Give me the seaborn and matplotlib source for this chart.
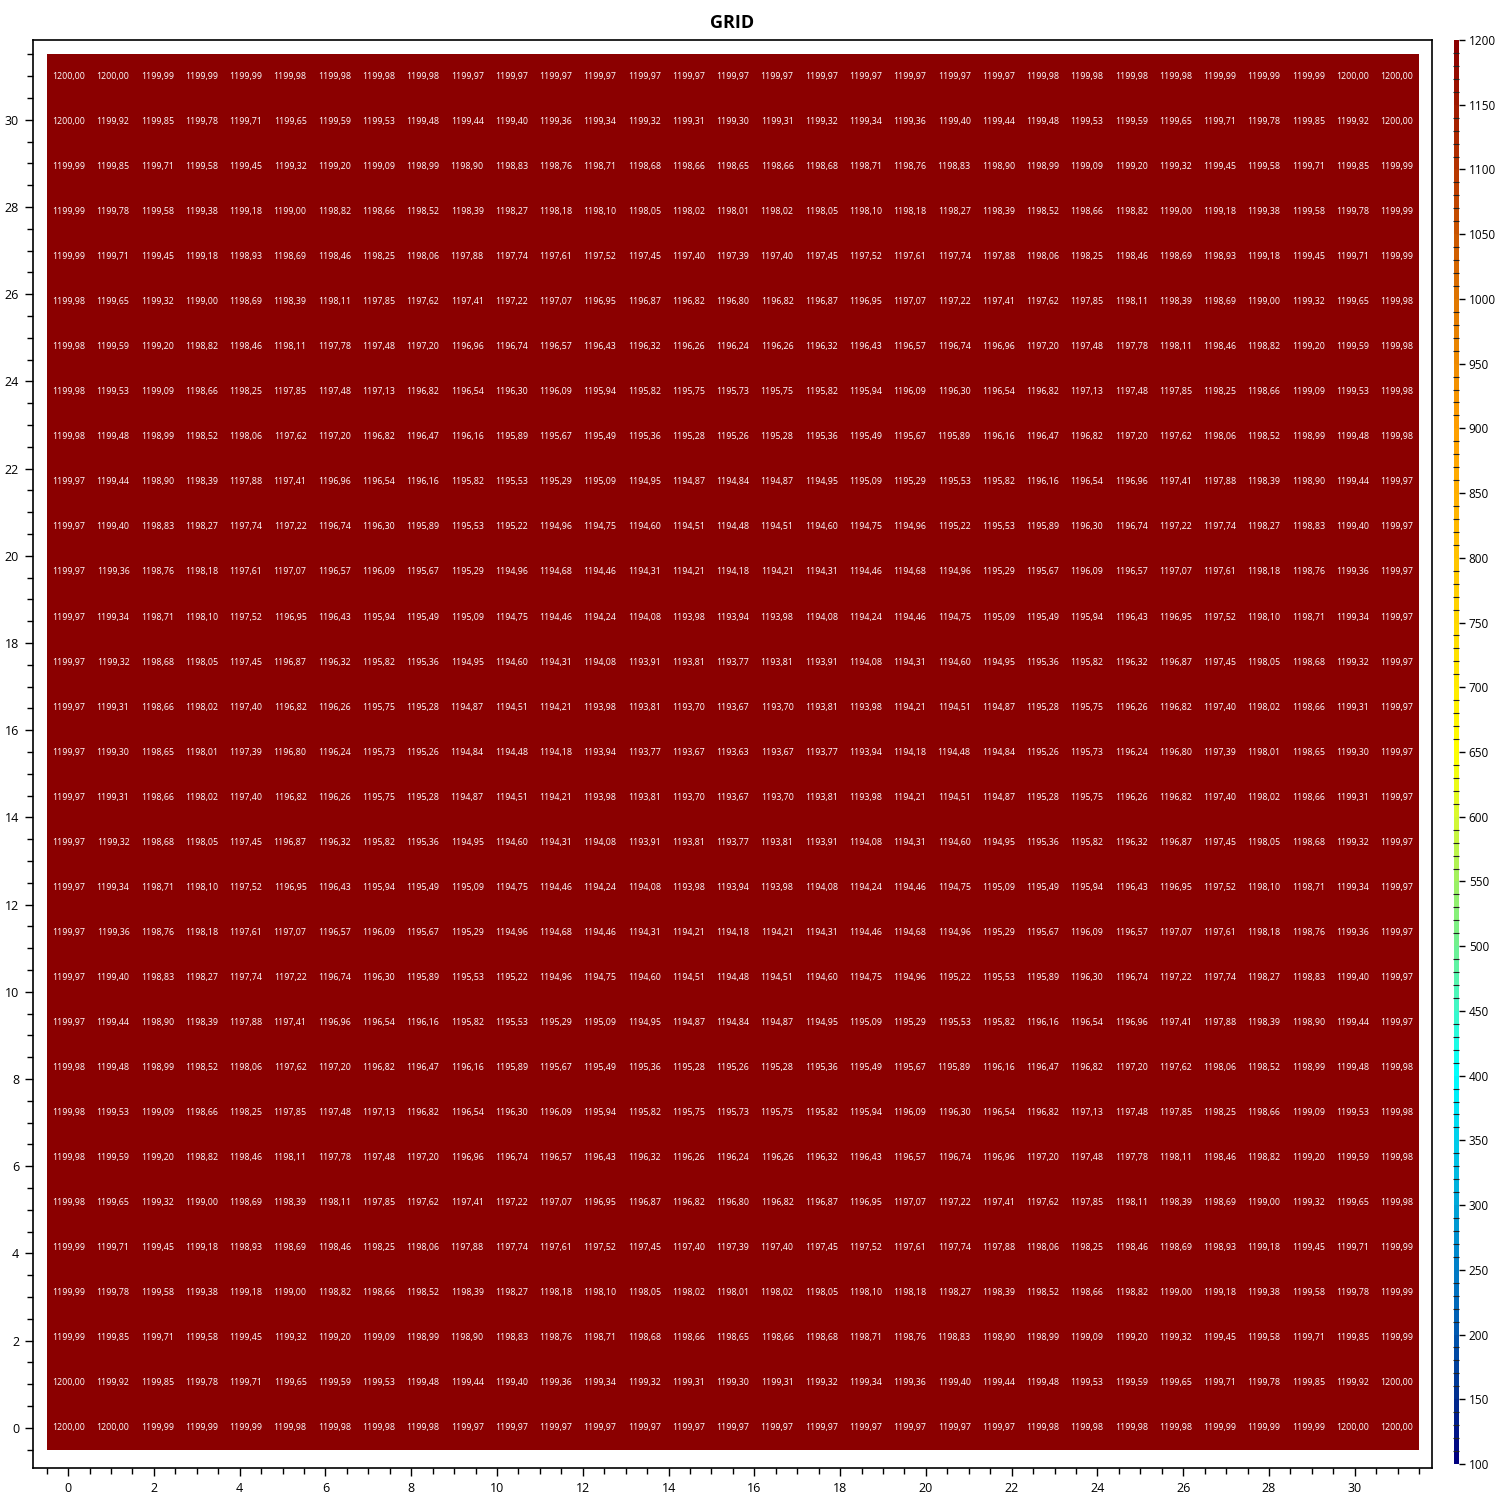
import numpy as np
import pandas as pd
import seaborn as sns
import matplotlib
import matplotlib.pyplot as plt
from matplotlib.colors import LinearSegmentedColormap
from matplotlib.ticker import MultipleLocator

matplotlib.rcParams['font.family'] = ['Open Sans', 'DejaVu Sans']

# grid values, one row per distinct line (the field is symmetric top/bottom)
row_00 = [1200.00, 1200.00, 1199.99, 1199.99, 1199.99, 1199.98, 1199.98, 1199.98, 1199.98, 1199.97, 1199.97, 1199.97, 1199.97, 1199.97, 1199.97, 1199.97,
          1199.97, 1199.97, 1199.97, 1199.97, 1199.97, 1199.97, 1199.98, 1199.98, 1199.98, 1199.98, 1199.99, 1199.99, 1199.99, 1200.00, 1200.00]
row_01 = [1200.00, 1199.92, 1199.85, 1199.78, 1199.71, 1199.65, 1199.59, 1199.53, 1199.48, 1199.44, 1199.40, 1199.36, 1199.34, 1199.32, 1199.31, 1199.30,
          1199.31, 1199.32, 1199.34, 1199.36, 1199.40, 1199.44, 1199.48, 1199.53, 1199.59, 1199.65, 1199.71, 1199.78, 1199.85, 1199.92, 1200.00]
row_02 = [1199.99, 1199.85, 1199.71, 1199.58, 1199.45, 1199.32, 1199.20, 1199.09, 1198.99, 1198.90, 1198.83, 1198.76, 1198.71, 1198.68, 1198.66, 1198.65,
          1198.66, 1198.68, 1198.71, 1198.76, 1198.83, 1198.90, 1198.99, 1199.09, 1199.20, 1199.32, 1199.45, 1199.58, 1199.71, 1199.85, 1199.99]
row_03 = [1199.99, 1199.78, 1199.58, 1199.38, 1199.18, 1199.00, 1198.82, 1198.66, 1198.52, 1198.39, 1198.27, 1198.18, 1198.10, 1198.05, 1198.02, 1198.01,
          1198.02, 1198.05, 1198.10, 1198.18, 1198.27, 1198.39, 1198.52, 1198.66, 1198.82, 1199.00, 1199.18, 1199.38, 1199.58, 1199.78, 1199.99]
row_04 = [1199.99, 1199.71, 1199.45, 1199.18, 1198.93, 1198.69, 1198.46, 1198.25, 1198.06, 1197.88, 1197.74, 1197.61, 1197.52, 1197.45, 1197.40, 1197.39,
          1197.40, 1197.45, 1197.52, 1197.61, 1197.74, 1197.88, 1198.06, 1198.25, 1198.46, 1198.69, 1198.93, 1199.18, 1199.45, 1199.71, 1199.99]
row_05 = [1199.98, 1199.65, 1199.32, 1199.00, 1198.69, 1198.39, 1198.11, 1197.85, 1197.62, 1197.41, 1197.22, 1197.07, 1196.95, 1196.87, 1196.82, 1196.80,
          1196.82, 1196.87, 1196.95, 1197.07, 1197.22, 1197.41, 1197.62, 1197.85, 1198.11, 1198.39, 1198.69, 1199.00, 1199.32, 1199.65, 1199.98]
row_06 = [1199.98, 1199.59, 1199.20, 1198.82, 1198.46, 1198.11, 1197.78, 1197.48, 1197.20, 1196.96, 1196.74, 1196.57, 1196.43, 1196.32, 1196.26, 1196.24,
          1196.26, 1196.32, 1196.43, 1196.57, 1196.74, 1196.96, 1197.20, 1197.48, 1197.78, 1198.11, 1198.46, 1198.82, 1199.20, 1199.59, 1199.98]
row_07 = [1199.98, 1199.53, 1199.09, 1198.66, 1198.25, 1197.85, 1197.48, 1197.13, 1196.82, 1196.54, 1196.30, 1196.09, 1195.94, 1195.82, 1195.75, 1195.73,
          1195.75, 1195.82, 1195.94, 1196.09, 1196.30, 1196.54, 1196.82, 1197.13, 1197.48, 1197.85, 1198.25, 1198.66, 1199.09, 1199.53, 1199.98]
row_08 = [1199.98, 1199.48, 1198.99, 1198.52, 1198.06, 1197.62, 1197.20, 1196.82, 1196.47, 1196.16, 1195.89, 1195.67, 1195.49, 1195.36, 1195.28, 1195.26,
          1195.28, 1195.36, 1195.49, 1195.67, 1195.89, 1196.16, 1196.47, 1196.82, 1197.20, 1197.62, 1198.06, 1198.52, 1198.99, 1199.48, 1199.98]
row_09 = [1199.97, 1199.44, 1198.90, 1198.39, 1197.88, 1197.41, 1196.96, 1196.54, 1196.16, 1195.82, 1195.53, 1195.29, 1195.09, 1194.95, 1194.87, 1194.84,
          1194.87, 1194.95, 1195.09, 1195.29, 1195.53, 1195.82, 1196.16, 1196.54, 1196.96, 1197.41, 1197.88, 1198.39, 1198.90, 1199.44, 1199.97]
row_10 = [1199.97, 1199.40, 1198.83, 1198.27, 1197.74, 1197.22, 1196.74, 1196.30, 1195.89, 1195.53, 1195.22, 1194.96, 1194.75, 1194.60, 1194.51, 1194.48,
          1194.51, 1194.60, 1194.75, 1194.96, 1195.22, 1195.53, 1195.89, 1196.30, 1196.74, 1197.22, 1197.74, 1198.27, 1198.83, 1199.40, 1199.97]
row_11 = [1199.97, 1199.36, 1198.76, 1198.18, 1197.61, 1197.07, 1196.57, 1196.09, 1195.67, 1195.29, 1194.96, 1194.68, 1194.46, 1194.31, 1194.21, 1194.18,
          1194.21, 1194.31, 1194.46, 1194.68, 1194.96, 1195.29, 1195.67, 1196.09, 1196.57, 1197.07, 1197.61, 1198.18, 1198.76, 1199.36, 1199.97]
row_12 = [1199.97, 1199.34, 1198.71, 1198.10, 1197.52, 1196.95, 1196.43, 1195.94, 1195.49, 1195.09, 1194.75, 1194.46, 1194.24, 1194.08, 1193.98, 1193.94,
          1193.98, 1194.08, 1194.24, 1194.46, 1194.75, 1195.09, 1195.49, 1195.94, 1196.43, 1196.95, 1197.52, 1198.10, 1198.71, 1199.34, 1199.97]
row_13 = [1199.97, 1199.32, 1198.68, 1198.05, 1197.45, 1196.87, 1196.32, 1195.82, 1195.36, 1194.95, 1194.60, 1194.31, 1194.08, 1193.91, 1193.81, 1193.77,
          1193.81, 1193.91, 1194.08, 1194.31, 1194.60, 1194.95, 1195.36, 1195.82, 1196.32, 1196.87, 1197.45, 1198.05, 1198.68, 1199.32, 1199.97]
row_14 = [1199.97, 1199.31, 1198.66, 1198.02, 1197.40, 1196.82, 1196.26, 1195.75, 1195.28, 1194.87, 1194.51, 1194.21, 1193.98, 1193.81, 1193.70, 1193.67,
          1193.70, 1193.81, 1193.98, 1194.21, 1194.51, 1194.87, 1195.28, 1195.75, 1196.26, 1196.82, 1197.40, 1198.02, 1198.66, 1199.31, 1199.97]
row_15 = [1199.97, 1199.30, 1198.65, 1198.01, 1197.39, 1196.80, 1196.24, 1195.73, 1195.26, 1194.84, 1194.48, 1194.18, 1193.94, 1193.77, 1193.67, 1193.63,
          1193.67, 1193.77, 1193.94, 1194.18, 1194.48, 1194.84, 1195.26, 1195.73, 1196.24, 1196.80, 1197.39, 1198.01, 1198.65, 1199.30, 1199.97]

# rows as drawn from top to bottom
grid_rows = [row_00, row_01, row_02, row_03, row_04, row_05, row_06, row_07,
             row_08, row_09, row_10, row_11, row_12, row_13, row_14, row_15,
             row_14, row_13, row_12, row_11, row_10, row_09, row_08, row_07,
             row_06, row_05, row_04, row_03, row_02, row_01, row_00]

x_ticks = list(range(0, 31, 2))
y_ticks = list(range(0, 31, 2))
cbar_ticks = list(range(100, 1201, 50))
vmin, vmax = 100, 1200

data = pd.DataFrame(grid_rows)
labels = data.map(lambda v: f"{v:.2f}".replace('.', ','))

# navy -> blue -> cyan -> green -> yellow -> orange -> dark red, stepped every 10
cmap = LinearSegmentedColormap.from_list('grid', [
    (0.000, '#000080'), (0.045, '#003090'), (0.091, '#0058b0'),
    (0.136, '#0080c8'), (0.182, '#00a8d8'), (0.227, '#00d0ec'),
    (0.273, '#00ffff'), (0.318, '#40f8c8'), (0.364, '#70f090'),
    (0.409, '#a0f060'), (0.455, '#d8f830'), (0.500, '#ffff00'),
    (0.591, '#ffd800'), (0.682, '#ffb000'), (0.727, '#ffa000'),
    (0.818, '#e07800'), (0.909, '#b83800'), (1.000, '#8b0000')], N=110)

fig = plt.figure(figsize=(15, 15), dpi=100)
ax = fig.add_axes([33 / 1500, 1 - 1468 / 1500, (1432 - 33) / 1500, (1468 - 40) / 1500])
cax = fig.add_axes([1454 / 1500, 1 - 1464 / 1500, 5 / 1500, (1464 - 40) / 1500])

sns.heatmap(data, ax=ax, cbar_ax=cax, cmap=cmap, vmin=vmin, vmax=vmax,
            annot=labels.values, fmt='', linewidths=0,
            annot_kws={'color': 'white', 'fontsize': 6.4},
            xticklabels=False, yticklabels=False)

# heatmap cells span -0.5..31.5 in the chart's own units
n = data.shape[0]
scale = n / 32.0
ax.set_xlim((-0.82 + 0.5) * scale, (31.8 + 0.5) * scale)
ax.set_ylim((31.5 + 0.92) * scale, (31.5 - 31.83) * scale)

ax.set_xticks([(v + 0.5) * scale for v in x_ticks])
ax.set_xticklabels([str(v) for v in x_ticks])
ax.set_xticks([(v / 2 + 0.5) * scale for v in range(-1, 64)], minor=True)
ax.set_yticks([(31.5 - v) * scale for v in y_ticks])
ax.set_yticklabels([str(v) for v in y_ticks])
ax.set_yticks([(31.5 - v / 2) * scale for v in range(-1, 64)], minor=True)
ax.tick_params(which='major', direction='out', length=6, width=1, labelsize=9, pad=4)
ax.tick_params(which='minor', direction='out', length=4, width=1)
ax.tick_params(axis='x', labelrotation=0)
ax.tick_params(axis='y', labelrotation=0)
for s in ax.spines.values():
    s.set_visible(True)
    s.set_color('black')
    s.set_linewidth(1.2)

ax.set_title('GRID', fontsize=13, fontweight='bold', pad=9)

cbar = ax.collections[0].colorbar
cbar.set_ticks(cbar_ticks)
cbar.set_ticklabels([str(v) for v in cbar_ticks])
cax.yaxis.set_minor_locator(MultipleLocator(10))
cax.tick_params(which='major', direction='out', length=4, width=1, labelsize=8.5, pad=3)
cax.tick_params(which='minor', direction='in', length=4, width=0.8, colors='#222222')
cbar.outline.set_visible(False)

plt.savefig('out.png', dpi=100)
